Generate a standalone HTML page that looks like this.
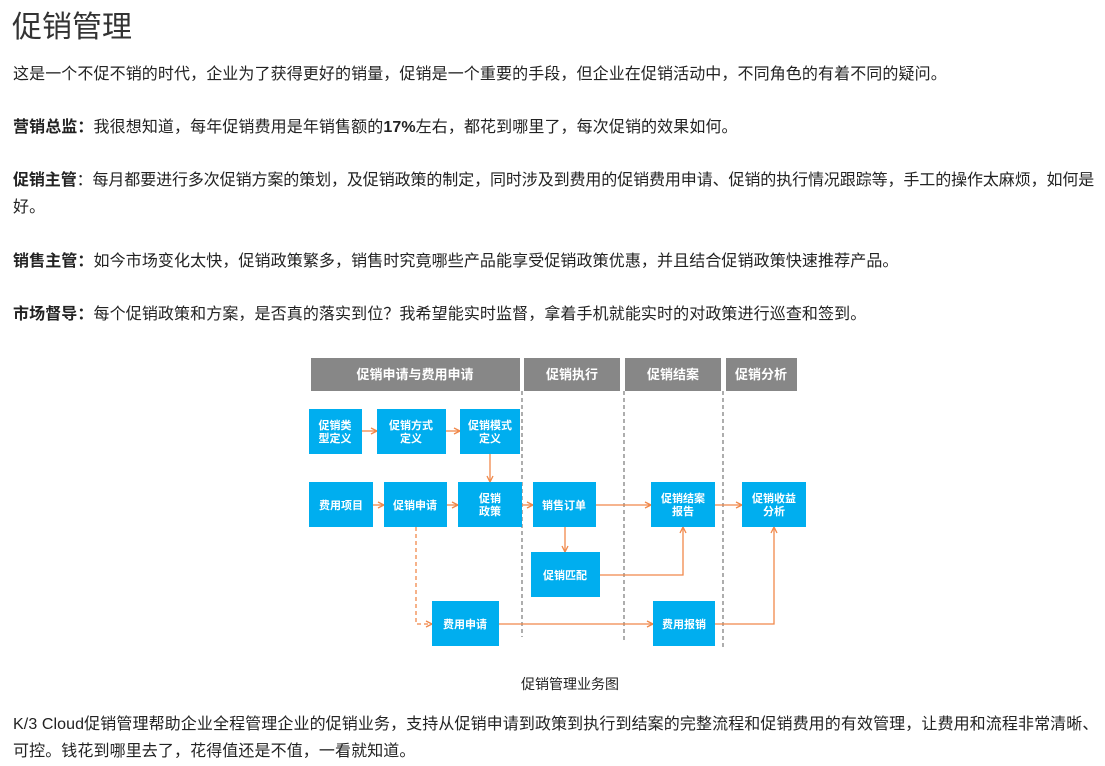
<!DOCTYPE html>
<html><head><meta charset="utf-8"><style>
body{margin:0;background:#fff;width:1105px;height:766px;position:relative;overflow:hidden;font-family:"Liberation Sans","Noto Sans CJK SC",sans-serif;color:#222}
.t{position:absolute;left:13px;white-space:nowrap;font-size:16px;letter-spacing:0.1px;line-height:20px}
b{font-weight:bold}
h1{position:absolute;left:12px;top:8px;margin:0;font-weight:normal;font-size:30px;color:#333;line-height:40px}
</style></head><body>
<h1>促销管理</h1>
<div class="t" style="top:65px">这是一个不促不销的时代，企业为了获得更好的销量，促销是一个重要的手段，但企业在促销活动中，不同角色的有着不同的疑问。</div>
<div class="t" style="top:118px"><b>营销总监：</b>我很想知道，每年促销费用是年销售额的<b>17%</b>左右，都花到哪里了，每次促销的效果如何。</div>
<div class="t" style="top:171px;letter-spacing:-0.1px"><b>促销主管</b>：每月都要进行多次促销方案的策划，及促销政策的制定，同时涉及到费用的促销费用申请、促销的执行情况跟踪等，手工的操作太麻烦，如何是</div>
<div class="t" style="top:198px">好。</div>
<div class="t" style="top:252px"><b>销售主管：</b>如今市场变化太快，促销政策繁多，销售时究竟哪些产品能享受促销政策优惠，并且结合促销政策快速推荐产品。</div>
<div class="t" style="top:305px"><b>市场督导：</b>每个促销政策和方案，是否真的落实到位？我希望能实时监督，拿着手机就能实时的对政策进行巡查和签到。</div>
<svg style="position:absolute;left:0;top:0" width="1105" height="766" font-family="Liberation Sans,Noto Sans CJK SC,sans-serif">
<defs><marker id="a" markerWidth="8" markerHeight="8" refX="7" refY="4" orient="auto" markerUnits="userSpaceOnUse"><path d="M1,1 L7,4 L1,7" fill="none" stroke="#f0884a" stroke-width="1.3"/></marker></defs>
<g fill="#878787">
<rect x="311" y="358" width="209" height="33"/><rect x="524" y="358" width="96" height="33"/><rect x="625" y="358" width="96" height="33"/><rect x="726" y="358" width="71" height="33"/>
</g>
<g fill="#fff" font-size="13" font-weight="bold" text-anchor="middle">
<text x="415" y="379">促销申请与费用申请</text><text x="572" y="379">促销执行</text><text x="673" y="379">促销结案</text><text x="761" y="379">促销分析</text>
</g>
<g stroke="#777" stroke-dasharray="4,3" stroke-width="1.2">
<line x1="522" y1="391" x2="522" y2="637"/><line x1="624" y1="391" x2="624" y2="643"/><line x1="723" y1="391" x2="723" y2="650"/>
</g>
<g stroke="#f0884a" stroke-width="1.3" fill="none" marker-end="url(#a)">
<line x1="362" y1="431" x2="377" y2="431"/><line x1="446" y1="431" x2="460" y2="431"/>
<line x1="490" y1="454" x2="490" y2="482"/>
<line x1="373" y1="505" x2="384" y2="505"/><line x1="447" y1="505" x2="458" y2="505"/><line x1="522" y1="505" x2="533" y2="505"/>
<line x1="596" y1="505" x2="651" y2="505"/><line x1="715" y1="505" x2="742" y2="505"/>
<line x1="565" y1="527" x2="565" y2="552"/>
<polyline points="600,575 683,575 683,527"/>
<polyline points="416,527 416,624 432,624" stroke-dasharray="4,3"/>
<line x1="499" y1="624" x2="653" y2="624"/>
<polyline points="715,624 774,624 774,527"/>
</g>
<g fill="#00aeef">
<rect x="309" y="409" width="53" height="45"/><rect x="377" y="409" width="69" height="45"/><rect x="460" y="409" width="60" height="45"/>
<rect x="309" y="482" width="64" height="45"/><rect x="384" y="482" width="63" height="45"/><rect x="458" y="482" width="64" height="45"/>
<rect x="533" y="482" width="63" height="45"/><rect x="651" y="482" width="64" height="45"/><rect x="742" y="482" width="64" height="45"/>
<rect x="531" y="552" width="69" height="45"/><rect x="432" y="601" width="67" height="45"/><rect x="653" y="601" width="62" height="45"/>
</g>
<g fill="#fff" font-size="11" font-weight="bold" text-anchor="middle">
<text x="335" y="429">促销类</text><text x="335" y="442">型定义</text>
<text x="411" y="429">促销方式</text><text x="411" y="442">定义</text>
<text x="490" y="429">促销模式</text><text x="490" y="442">定义</text>
<text x="341" y="509">费用项目</text><text x="415" y="509">促销申请</text>
<text x="490" y="502">促销</text><text x="490" y="515">政策</text>
<text x="564" y="509">销售订单</text>
<text x="683" y="502">促销结案</text><text x="683" y="515">报告</text>
<text x="774" y="502">促销收益</text><text x="774" y="515">分析</text>
<text x="565" y="579">促销匹配</text><text x="465" y="628">费用申请</text><text x="684" y="628">费用报销</text>
</g>
<text x="570" y="689" font-size="14" text-anchor="middle" fill="#222">促销管理业务图</text>
</svg>
<div class="t" style="top:715px;letter-spacing:0.1px">K/3 Cloud促销管理帮助企业全程管理企业的促销业务，支持从促销申请到政策到执行到结案的完整流程和促销费用的有效管理，让费用和流程非常清晰、</div>
<div class="t" style="top:742px">可控。钱花到哪里去了，花得值还是不值，一看就知道。</div>
</body></html>
